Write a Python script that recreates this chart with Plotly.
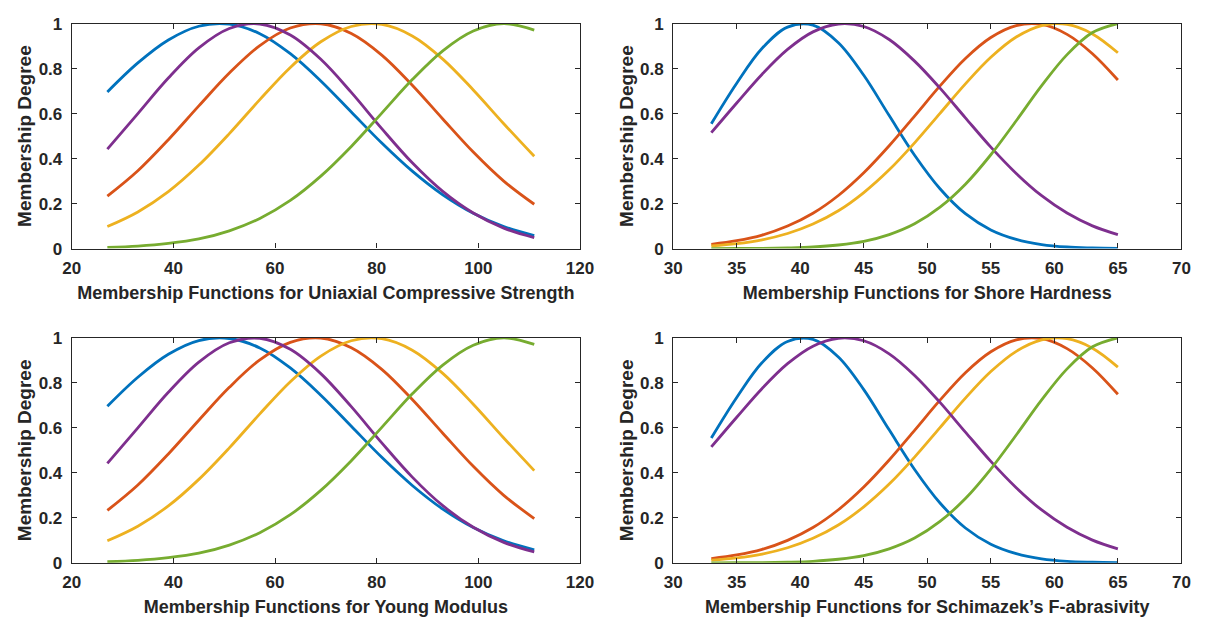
import plotly.graph_objects as go
from plotly.subplots import make_subplots

# Sample positions for the two kinds of input variable
x_wide = [27, 33, 39, 45, 51, 57, 63, 69, 75, 81, 87, 93, 99, 105, 111]
x_narrow = [33, 35, 37, 39, 41, 43, 45, 47, 49, 51, 53, 55, 57, 59, 61, 63, 65]

# Membership degrees, wide-range inputs (UCS, Young modulus)
wide_mf1 = [0.696, 0.825, 0.927, 0.988, 0.997, 0.955, 0.866, 0.745, 0.607, 0.469, 0.344, 0.239, 0.157, 0.098, 0.058]
wide_mf2 = [0.233, 0.346, 0.484, 0.634, 0.780, 0.902, 0.980, 0.999, 0.956, 0.860, 0.726, 0.576, 0.429, 0.300, 0.197]
wide_mf3 = [0.098, 0.163, 0.253, 0.371, 0.511, 0.662, 0.805, 0.919, 0.987, 0.996, 0.945, 0.842, 0.705, 0.555, 0.410]
wide_mf4 = [0.442, 0.600, 0.758, 0.892, 0.978, 0.998, 0.949, 0.841, 0.694, 0.533, 0.381, 0.254, 0.158, 0.091, 0.049]
wide_mf5 = [0.005, 0.011, 0.023, 0.043, 0.079, 0.134, 0.214, 0.322, 0.454, 0.602, 0.751, 0.879, 0.967, 1.000, 0.971]

# Membership degrees, narrow-range inputs (Shore hardness, F-abrasivity)
narrow_mf1 = [0.555, 0.735, 0.890, 0.984, 0.993, 0.915, 0.770, 0.591, 0.415, 0.266, 0.155, 0.083, 0.041, 0.018, 0.007, 0.003, 0.001]
narrow_mf2 = [0.019, 0.035, 0.060, 0.100, 0.157, 0.236, 0.337, 0.457, 0.589, 0.723, 0.845, 0.938, 0.991, 0.996, 0.952, 0.866, 0.749]
narrow_mf3 = [0.012, 0.022, 0.039, 0.067, 0.109, 0.168, 0.249, 0.350, 0.470, 0.601, 0.732, 0.850, 0.940, 0.991, 0.996, 0.954, 0.870]
narrow_mf4 = [0.515, 0.647, 0.775, 0.885, 0.963, 0.998, 0.987, 0.929, 0.833, 0.713, 0.581, 0.451, 0.334, 0.235, 0.158, 0.101, 0.062]
narrow_mf5 = [0.000, 0.001, 0.001, 0.003, 0.007, 0.016, 0.032, 0.062, 0.110, 0.184, 0.286, 0.417, 0.568, 0.724, 0.862, 0.960, 1.000]

panel_titles = [
    "Membership Functions for Uniaxial Compressive Strength",
    "Membership Functions for Shore Hardness",
    "Membership Functions for Young Modulus",
    "Membership Functions for Schimazek\u2019s F-abrasivity",
]
y_label = "Membership Degree"
y_ticks = [0, 0.2, 0.4, 0.6, 0.8, 1]
y_ticktext = ["0", "0.2", "0.4", "0.6", "0.8", "1"]

colors = ["#0072BD", "#D95319", "#EDB120", "#7E2F8E", "#77AC30"]
wide_sets = [wide_mf1, wide_mf2, wide_mf3, wide_mf4, wide_mf5]
narrow_sets = [narrow_mf1, narrow_mf2, narrow_mf3, narrow_mf4, narrow_mf5]

fig = make_subplots(rows=2, cols=2)

panels = [
    (1, 1, x_wide, wide_sets),
    (1, 2, x_narrow, narrow_sets),
    (2, 1, x_wide, wide_sets),
    (2, 2, x_narrow, narrow_sets),
]
for r, c, xs, sets in panels:
    for ys, col in zip(sets, colors):
        fig.add_trace(
            go.Scatter(x=xs, y=ys, mode="lines", line=dict(color=col, width=2.8, shape="spline"),
                       showlegend=False, hoverinfo="skip"),
            row=r, col=c,
        )

axis_col = "#262626"
tick_font = dict(family="Liberation Sans", size=17, color=axis_col)
xtitle_font = dict(family="Liberation Sans", size=18, color=axis_col)
ytitle_font = dict(family="Liberation Sans", size=19, color=axis_col)

x_domains = [[64 / 1216, 582 / 1216], [677 / 1216, 1195 / 1216]]
y_domains = [[1 - 247 / 633, 1 - 15 / 633], [1 - 571 / 633, 1 - 339 / 633]]

for i, (r, c) in enumerate([(1, 1), (1, 2), (2, 1), (2, 2)]):
    wide = c == 1
    fig.update_xaxes(
        row=r, col=c, domain=x_domains[c - 1],
        range=[20, 120] if wide else [30, 70], dtick=20 if wide else 5, tick0=0,
        showgrid=False, zeroline=False, showline=True, linecolor=axis_col, linewidth=1.2,
        mirror="ticks", ticks="inside", ticklen=5, tickcolor=axis_col,
        tickfont=tick_font, ticklabelstandoff=4,
        title=dict(text="<b>" + panel_titles[i] + "</b>", font=xtitle_font, standoff=9),
        tickprefix="<b>", ticksuffix="</b>",
    )
    fig.update_yaxes(
        row=r, col=c, domain=y_domains[r - 1],
        range=[0, 1], tickvals=y_ticks, ticktext=["<b>" + t + "</b>" for t in y_ticktext],
        showgrid=False, zeroline=False, showline=True, linecolor=axis_col, linewidth=1.2,
        mirror="ticks", ticks="inside", ticklen=5, tickcolor=axis_col,
        tickfont=tick_font, ticklabelstandoff=5,
        title=dict(text="<b>" + y_label + "</b>", font=ytitle_font, standoff=1),
    )

fig.update_layout(
    width=1216, height=633,
    margin=dict(l=0, r=0, t=0, b=0),
    paper_bgcolor="white", plot_bgcolor="white",
)

fig.write_html("out.html")
